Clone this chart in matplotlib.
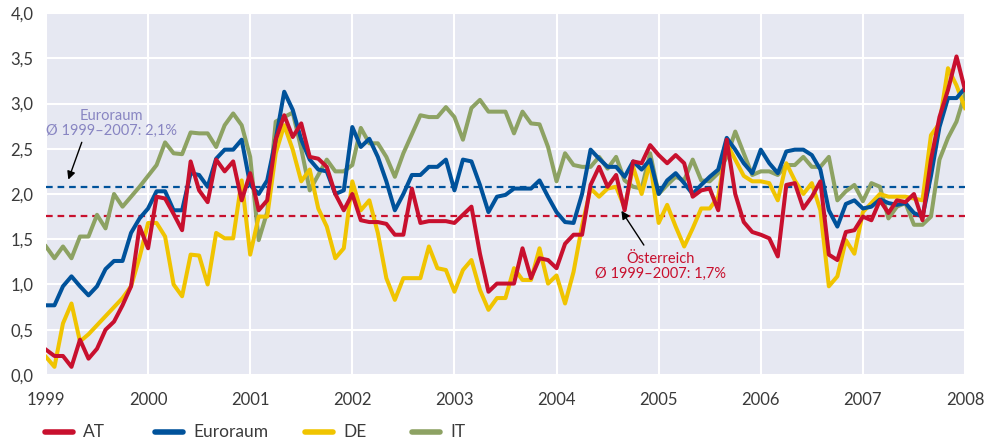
import matplotlib
matplotlib.use('Agg')
import matplotlib.pyplot as plt
from matplotlib.lines import Line2D
from matplotlib.ticker import FuncFormatter, MultipleLocator
import numpy as np

plt.rcParams['font.family'] = ['Lato', 'DejaVu Sans']

## monthly values, Jan 1999 .. Jan 2008
at = [0.28, 0.21, 0.21, 0.09, 0.39, 0.18, 0.29, 0.50, 0.59, 0.77, 0.98, 1.64,
      1.40, 1.97, 1.95, 1.78, 1.60, 2.36, 2.04, 1.91, 2.38, 2.25, 2.36, 1.93,
      2.23, 1.82, 1.93, 2.60, 2.87, 2.63, 2.78, 2.41, 2.39, 2.30, 2.00, 1.82,
      2.00, 1.71, 1.69, 1.69, 1.67, 1.55, 1.55, 2.06, 1.68, 1.70, 1.70, 1.70,
      1.68, 1.77, 1.86, 1.34, 0.92, 1.01, 1.01, 1.01, 1.40, 1.07, 1.29, 1.27,
      1.18, 1.45, 1.55, 1.55, 2.10, 2.30, 2.08, 2.21, 1.82, 2.36, 2.34, 2.54,
      2.43, 2.34, 2.43, 2.34, 1.97, 2.04, 2.06, 1.82, 2.60, 2.00, 1.69, 1.58,
      1.55, 1.51, 1.31, 2.10, 2.12, 1.84, 1.97, 2.14, 1.33, 1.27, 1.58, 1.60,
      1.75, 1.71, 1.93, 1.79, 1.93, 1.91, 2.00, 1.71, 2.38, 2.85, 3.15, 3.52,
      3.15]
euro = [0.77, 0.77, 0.98, 1.09, 0.98, 0.88, 0.98, 1.17, 1.26, 1.26, 1.57, 1.73,
        1.84, 2.03, 2.03, 1.82, 1.82, 2.23, 2.21, 2.08, 2.39, 2.49, 2.49, 2.60,
        2.10, 2.00, 2.15, 2.60, 3.13, 2.93, 2.60, 2.38, 2.27, 2.25, 2.00, 2.04,
        2.74, 2.52, 2.61, 2.41, 2.14, 1.82, 2.00, 2.21, 2.21, 2.30, 2.30, 2.38,
        2.04, 2.38, 2.36, 2.10, 1.80, 1.97, 1.99, 2.06, 2.06, 2.06, 2.15, 1.97,
        1.80, 1.69, 1.68, 2.00, 2.49, 2.39, 2.30, 2.30, 2.19, 2.36, 2.27, 2.38,
        2.00, 2.15, 2.23, 2.12, 2.00, 2.10, 2.19, 2.27, 2.62, 2.49, 2.34, 2.23,
        2.49, 2.34, 2.23, 2.47, 2.49, 2.49, 2.43, 2.27, 1.82, 1.64, 1.89, 1.93,
        1.84, 1.86, 1.94, 1.90, 1.88, 1.90, 1.79, 1.75, 2.20, 2.74, 3.06, 3.06,
        3.17]
de = [0.20, 0.09, 0.57, 0.79, 0.37, 0.45, 0.55, 0.65, 0.75, 0.85, 0.98, 1.30,
      1.68, 1.68, 1.53, 1.00, 0.87, 1.33, 1.32, 1.00, 1.57, 1.51, 1.51, 2.15,
      1.33, 1.75, 1.75, 2.45, 2.76, 2.49, 2.14, 2.27, 1.84, 1.64, 1.29, 1.40,
      2.14, 1.82, 1.93, 1.57, 1.07, 0.83, 1.07, 1.07, 1.07, 1.42, 1.18, 1.16,
      0.92, 1.16, 1.27, 0.94, 0.72, 0.85, 0.85, 1.18, 1.05, 1.05, 1.40, 1.01,
      1.10, 0.79, 1.14, 1.65, 2.06, 1.97, 2.06, 2.08, 1.85, 2.30, 2.00, 2.35,
      1.68, 1.88, 1.64, 1.42, 1.62, 1.84, 1.84, 1.97, 2.56, 2.38, 2.20, 2.14,
      2.14, 2.12, 1.93, 2.34, 2.15, 2.00, 2.12, 1.82, 0.98, 1.09, 1.49, 1.34,
      1.80, 1.90, 2.00, 1.97, 1.97, 1.97, 1.95, 1.93, 2.65, 2.78, 3.39, 3.20,
      2.95]
it = [1.42, 1.29, 1.42, 1.29, 1.53, 1.53, 1.77, 1.62, 2.00, 1.86, 1.97, 2.08,
      2.20, 2.32, 2.57, 2.45, 2.44, 2.68, 2.67, 2.67, 2.52, 2.76, 2.89, 2.76,
      2.41, 1.49, 1.80, 2.80, 2.85, 2.90, 2.50, 2.04, 2.21, 2.38, 2.25, 2.25,
      2.32, 2.73, 2.56, 2.56, 2.41, 2.19, 2.45, 2.66, 2.87, 2.85, 2.85, 2.96,
      2.85, 2.60, 2.95, 3.04, 2.91, 2.91, 2.91, 2.67, 2.91, 2.78, 2.77, 2.52,
      2.14, 2.45, 2.32, 2.30, 2.30, 2.41, 2.28, 2.41, 2.15, 2.08, 2.06, 2.45,
      2.00, 2.10, 2.19, 2.15, 2.38, 2.15, 2.14, 2.23, 2.41, 2.69, 2.45, 2.21,
      2.25, 2.25, 2.21, 2.32, 2.32, 2.41, 2.30, 2.30, 2.41, 1.93, 2.03, 2.10,
      1.92, 2.12, 2.08, 1.73, 1.86, 1.90, 1.66, 1.66, 1.75, 2.38, 2.62, 2.80,
      3.11]

names = ['AT', 'Euroraum', 'DE', 'IT']

avg_euro = 2.08   ## Euroraum 1999-2007
avg_at = 1.76     ## Oesterreich 1999-2007

c_at = '#c8102e'
c_euro = '#00529b'
c_de = '#f0c400'
c_it = '#8da263'
c_bg = '#e6e8f2'
c_txt = '#3a3a3a'
colors = [c_at, c_euro, c_de, c_it]

x = 1999 + np.arange(len(at)) / 12

W, H = 984, 441
fig = plt.figure(figsize=(W / 100, H / 100), dpi=100)
ax = fig.add_axes([0.0467, 0.1497, 0.934, 0.8208])
ax.set_facecolor(c_bg)

ax.axhline(avg_euro, color=c_euro, lw=1.6, ls=(0, (3, 2.2)), zorder=2)
ax.axhline(avg_at, color=c_at, lw=1.6, ls=(0, (3, 2.2)), zorder=2)

lw = 2.9
ax.plot(x, it, color=c_it, lw=lw, zorder=3)
ax.plot(x, de, color=c_de, lw=lw, zorder=4)
ax.plot(x, euro, color=c_euro, lw=lw, zorder=5)
ax.plot(x, at, color=c_at, lw=lw, zorder=6)

ax.set_xlim(1999, 2008)
ax.set_ylim(0, 4)
ax.set_xticks(range(1999, 2009))
ax.yaxis.set_major_locator(MultipleLocator(0.5))
ax.yaxis.set_major_formatter(FuncFormatter(lambda v, p: f'{v:.1f}'.replace('.', ',')))
ax.grid(color='white', lw=1.5)
ax.set_axisbelow(True)
for s in ax.spines.values():
    s.set_visible(False)
ax.tick_params(axis='x', length=0, pad=12, labelsize=12, labelcolor=c_txt)
ax.tick_params(axis='y', length=0, pad=9, labelsize=12, labelcolor=c_txt)

## annotations
ax.text(1999.64, 2.78, 'Euroraum\nØ 1999–2007: 2,1%', ha='center', va='center',
        fontsize=10.5, color='#8885c2', linespacing=1.15)
ax.annotate('', xy=(1999.21, 2.13), xytext=(1999.36, 2.6),
            arrowprops=dict(arrowstyle='-|>', color='black', lw=1, mutation_scale=12))
ax.text(2005.02, 1.2, 'Österreich\nØ 1999–2007: 1,7%', ha='center', va='center',
        fontsize=10.5, color=c_at, linespacing=1.15)
ax.annotate('', xy=(2004.62, 1.84), xytext=(2004.87, 1.41),
            arrowprops=dict(arrowstyle='-|>', color='black', lw=1, mutation_scale=12))

## legend row, placed by hand (pixel positions of the original layout)
leg_x = [45, 155, 305, 412]
leg_y = 1 - 432 / H
for px, name, c in zip(leg_x, names, colors):
    fig.add_artist(Line2D([px / W, (px + 28) / W], [leg_y, leg_y], color=c, lw=4,
                          solid_capstyle='round'))
    fig.text((px + 38) / W, leg_y, name, ha='left', va='center', fontsize=12.5,
             color=c_txt)

fig.savefig('out.png', dpi=100, facecolor='white')
